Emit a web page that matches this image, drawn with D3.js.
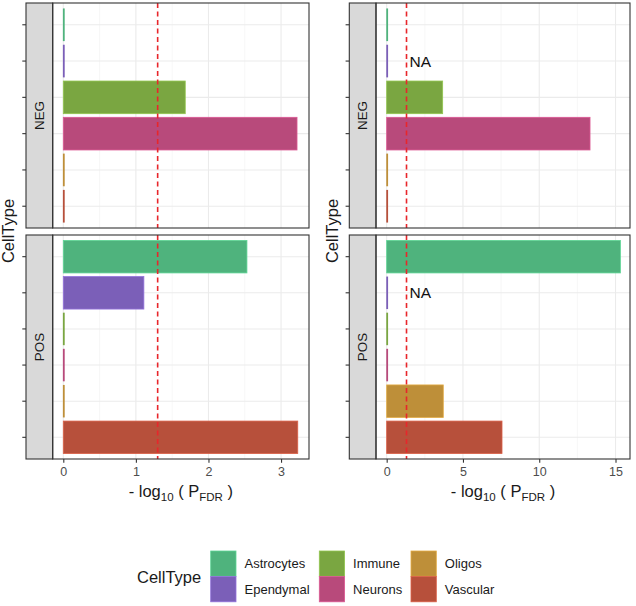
<!DOCTYPE html>
<html><head><meta charset="utf-8">
<script src="https://cdn.jsdelivr.net/npm/d3@7"></script>
<style>body{margin:0;background:#fff}svg{display:block;font-family:"Liberation Sans",Arial,sans-serif}</style>
</head><body><svg id="c" width="636" height="606"></svg>
<script>
const cellTypes = ["Astrocytes","Ependymal","Immune","Neurons","Oligos","Vascular"];
const colors = ["#4fb37d","#7b5fb8","#7aa641","#b84a7b","#be8f39","#b7503b"];
const groups = ["NEG","POS"];
// left column values (-log10 PFDR)
const leftNEG = [0, 0, 1.68, 3.22, 0, 0];
const leftPOS = [2.53, 1.11, 0, 0, 0, 3.23];
// right column values
const rightNEG = [0, 0, 3.67, 13.33, 0, 0];
const rightPOS = [15.32, 0, 0, 0, 3.71, 7.56];
const rightNA = ["Ependymal"];
const threshold = 1.30;
const leftTicks = [0,1,2,3];
const rightTicks = [0,5,10,15];
const leftDomain = [-0.146, 3.385];
const rightDomain = [-0.70, 15.95];

const svg = d3.select("#c");
const colorScale = d3.scaleOrdinal().domain(cellTypes).range(colors);

const cols = [
  {stripX:26, px0:52.7, px1:309, domain:leftDomain, ticks:leftTicks, data:[leftNEG,leftPOS], na:[], titleX:14},
  {stripX:349.3, px0:376, px1:630, domain:rightDomain, ticks:rightTicks, data:[rightNEG,rightPOS], na:rightNA, titleX:338}
];
const rows = [{y0:3, y1:228},{y0:235, y1:459}];

cols.forEach(col => {
  const x = d3.scaleLinear().domain(col.domain).range([col.px0, col.px1]);
  const minor = col.ticks.slice(0,-1).map((t,i)=> (t+col.ticks[i+1])/2);
  rows.forEach((row, ri) => {
    const y = d3.scaleBand().domain(cellTypes).range([row.y0,row.y1]).paddingInner(0.1).paddingOuter(0.15);
    const g = svg.append("g");
    g.append("rect").attr("x",col.px0).attr("y",row.y0).attr("width",col.px1-col.px0).attr("height",row.y1-row.y0).attr("fill","#fff");
    g.selectAll(".mn").data(minor).join("line")
      .attr("x1",d=>x(d)).attr("x2",d=>x(d)).attr("y1",row.y0).attr("y2",row.y1)
      .attr("stroke","#f2f2f2").attr("stroke-width",0.6);
    g.selectAll(".mj").data(col.ticks).join("line")
      .attr("x1",d=>x(d)).attr("x2",d=>x(d)).attr("y1",row.y0).attr("y2",row.y1)
      .attr("stroke","#ebebeb").attr("stroke-width",1.1);
    g.selectAll(".hy").data(cellTypes).join("line")
      .attr("x1",col.px0).attr("x2",col.px1)
      .attr("y1",d=>y(d)+y.bandwidth()/2).attr("y2",d=>y(d)+y.bandwidth()/2)
      .attr("stroke","#ebebeb").attr("stroke-width",1.1);
    const vals = col.data[ri];
    g.selectAll(".bar").data(cellTypes.map((c,i)=>({c, v:vals[i]}))).join("rect")
      .attr("x", d=> d.v>0.3 ? x(0) : x(0)-0.4).attr("y", d=>y(d.c)).attr("height", y.bandwidth())
      .attr("width", d=>Math.max(1.8, x(d.v)-x(0)))
      .attr("fill", d=>colorScale(d.c))
      .attr("stroke", d=> d.v>0.3 ? d3.color(colorScale(d.c)).brighter(0.5) : "none")
      .attr("stroke-width", 0.8);
    g.append("line").attr("x1",x(threshold)).attr("x2",x(threshold)).attr("y1",row.y0).attr("y2",row.y1)
      .attr("stroke","#e8262b").attr("stroke-width",1.6).attr("stroke-dasharray","5,3.5");
    g.selectAll(".na").data(col.na).join("text")
      .attr("x", x(1.5)).attr("y", d=>y(d)+y.bandwidth()/2).attr("dy","0.36em")
      .attr("font-size",15.5).attr("fill","#111").text("NA");
    g.append("rect").attr("x",col.stripX).attr("y",row.y0).attr("width",col.px0-col.stripX).attr("height",row.y1-row.y0)
      .attr("fill","#d9d9d9").attr("stroke","#333").attr("stroke-width",1.1);
    g.append("text").attr("transform",`translate(${(col.stripX+col.px0)/2+4.8},${(row.y0+row.y1)/2}) rotate(-90)`)
      .attr("text-anchor","middle").attr("font-size",13.4).attr("fill","#1a1a1a").text(groups[ri]);
    g.append("rect").attr("x",col.px0).attr("y",row.y0).attr("width",col.px1-col.px0).attr("height",row.y1-row.y0)
      .attr("fill","none").attr("stroke","#333").attr("stroke-width",1.1);
    g.selectAll(".yt").data(cellTypes).join("line")
      .attr("x1",col.stripX-3.7).attr("x2",col.stripX)
      .attr("y1",d=>y(d)+y.bandwidth()/2).attr("y2",d=>y(d)+y.bandwidth()/2)
      .attr("stroke","#333").attr("stroke-width",1.1);
  });
  const ax = svg.append("g").attr("transform",`translate(0,${rows[1].y1})`)
    .call(d3.axisBottom(x).tickValues(col.ticks).tickSize(3.7).tickPadding(4.8).tickFormat(d3.format("d")));
  ax.select(".domain").remove();
  ax.selectAll("line").attr("stroke","#333").attr("stroke-width",1.1);
  ax.selectAll("text").attr("font-size",12.5).attr("fill","#4d4d4d").attr("font-family","Liberation Sans, Arial, sans-serif");
  const t = svg.append("text").attr("x",(col.px0+col.px1)/2).attr("y",497).attr("text-anchor","middle")
    .attr("font-size",16.5).attr("fill","#1a1a1a");
  t.append("tspan").text("- log");
  t.append("tspan").attr("font-size",11.5).attr("dy",3.5).text("10");
  t.append("tspan").attr("dy",-3.5).text(" ( P");
  t.append("tspan").attr("font-size",11.5).attr("dy",3.5).text("FDR");
  t.append("tspan").attr("dy",-3.5).text(" )");
  svg.append("text").attr("transform",`translate(${col.titleX},${(rows[0].y0+rows[1].y1)/2}) rotate(-90)`)
    .attr("text-anchor","middle").attr("font-size",16.5).attr("fill","#1a1a1a").text("CellType");
});

const lg = svg.append("g");
lg.append("text").attr("x",137).attr("y",577).attr("dy","0.36em").attr("font-size",16.5).attr("fill","#1a1a1a").text("CellType");
const keyX = [210.7, 319.3, 411];
const keyY = [551, 576.5];
const keySize = 25.3;
cellTypes.forEach((c,i)=>{
  const cx = keyX[Math.floor(i/2)], cy = keyY[i%2];
  lg.append("rect").attr("x",cx).attr("y",cy).attr("width",keySize).attr("height",keySize)
    .attr("fill",colorScale(c)).attr("stroke",d3.color(colorScale(c)).brighter(0.5)).attr("stroke-width",0.8);
  lg.append("text").attr("x",cx+keySize+8.5).attr("y",cy+keySize/2).attr("dy","0.36em")
    .attr("font-size",13).attr("fill","#1a1a1a").text(c);
});
</script></body></html>
